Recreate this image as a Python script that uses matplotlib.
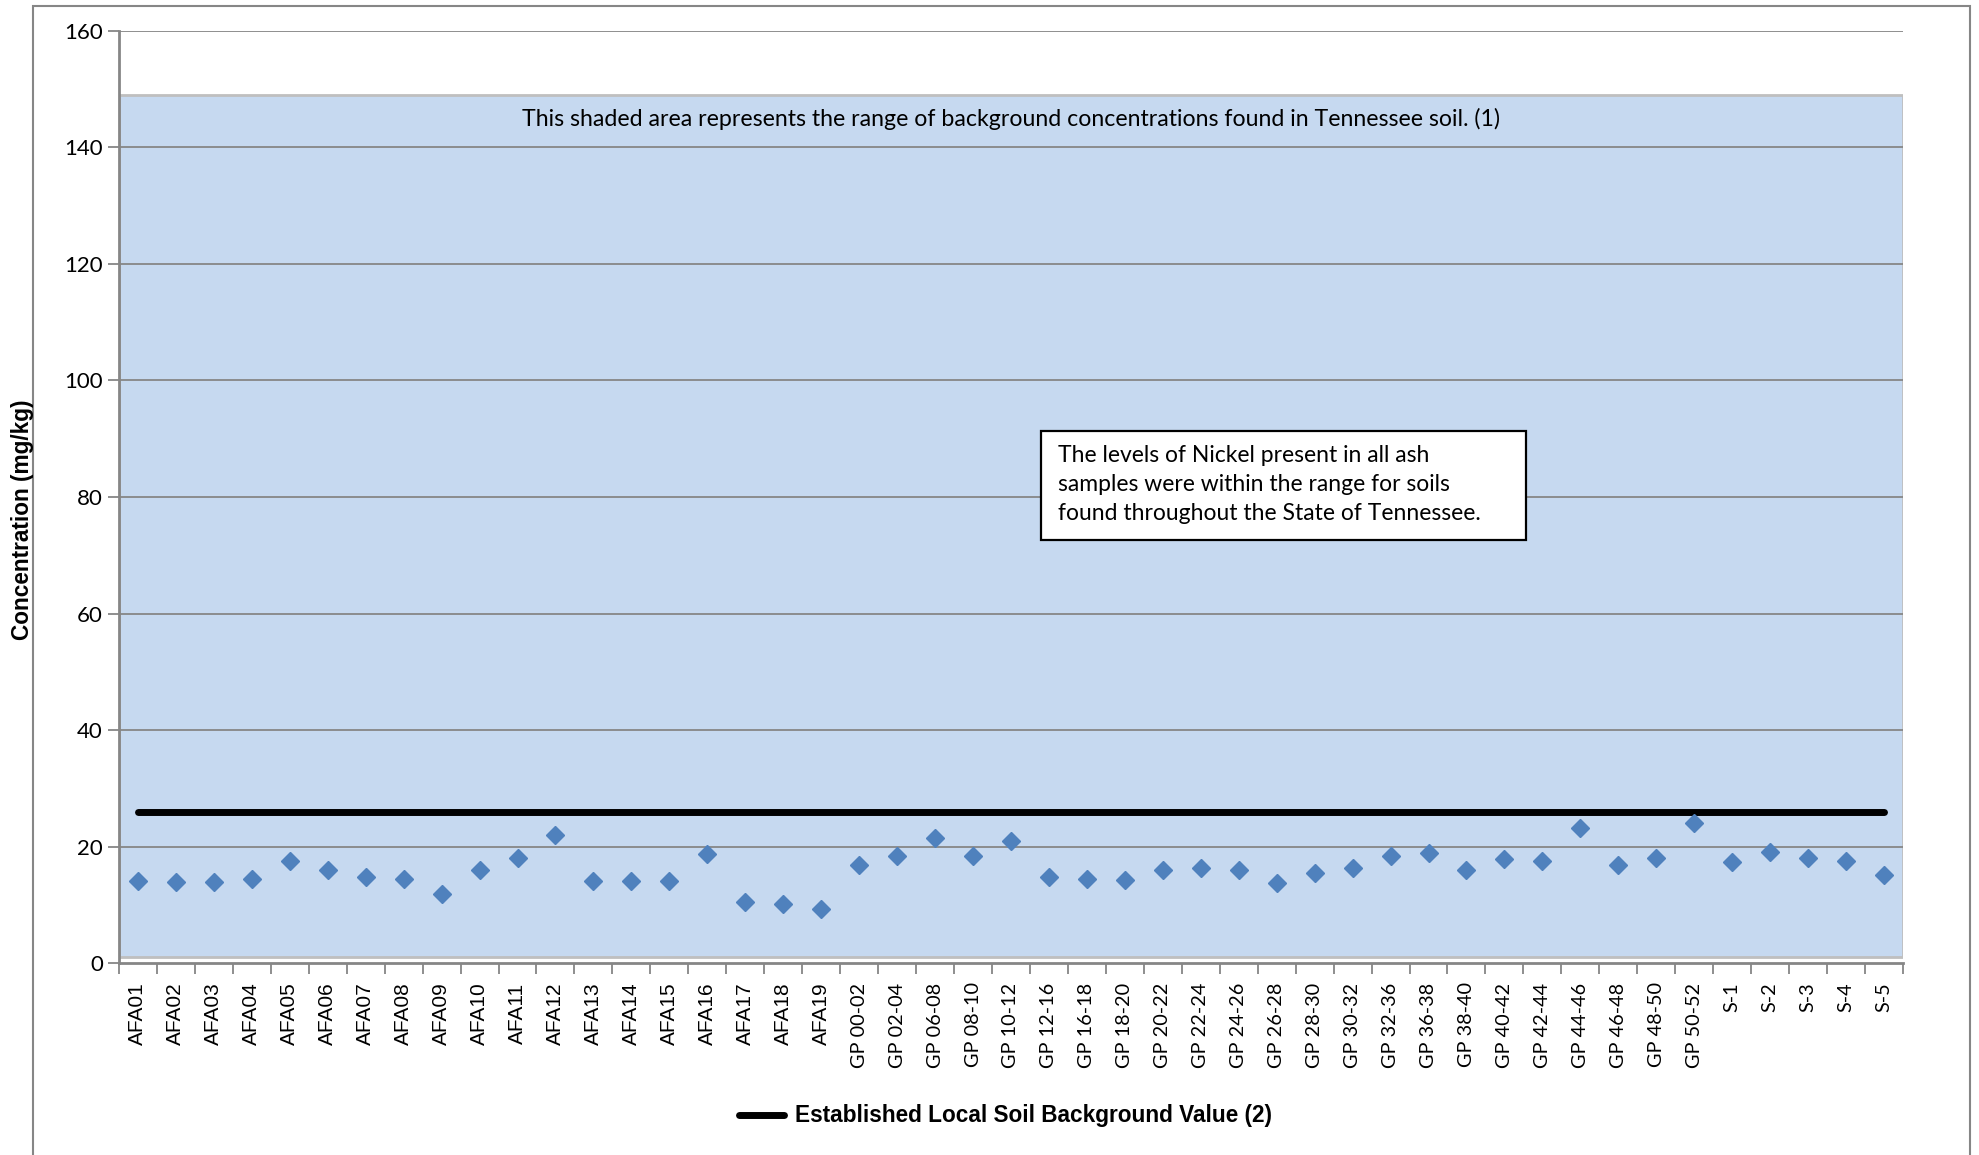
import matplotlib.pyplot as plt
from matplotlib.patches import Rectangle

# sample ids and nickel concentrations (mg/kg)
afa_ids = ["AFA%02d" % i for i in range(1, 20)]
gp_ids = ["GP 00-02", "GP 02-04", "GP 06-08", "GP 08-10", "GP 10-12", "GP 12-16",
          "GP 16-18", "GP 18-20", "GP 20-22", "GP 22-24", "GP 24-26", "GP 26-28",
          "GP 28-30", "GP 30-32", "GP 32-36", "GP 36-38", "GP 38-40", "GP 40-42",
          "GP 42-44", "GP 44-46", "GP 46-48", "GP 48-50", "GP 50-52"]
s_ids = ["S-1", "S-2", "S-3", "S-4", "S-5"]
samples = afa_ids + gp_ids + s_ids

afa_vals = [14.1, 13.9, 13.9, 14.4, 17.5, 16.0, 14.8, 14.4, 11.9, 15.9,
            18.1, 21.9, 14.0, 14.0, 14.0, 18.7, 10.4, 10.1, 9.3]
gp_vals = [16.8, 18.4, 21.5, 18.4, 21.0, 14.8, 14.4, 14.2, 15.9, 16.3,
           16.0, 13.7, 15.5, 16.3, 18.3, 18.9, 16.0, 17.8, 17.6, 23.2,
           16.8, 18.1, 24.0]
s_vals = [17.3, 19.0, 18.0, 17.5, 15.1]
nickel = afa_vals + gp_vals + s_vals

background_value = 26      # established local soil background
tn_range = (1, 149)        # Tennessee soil background range

x = list(range(len(samples)))

fig = plt.figure(figsize=(19.79, 11.55), dpi=100)
ax = fig.add_axes([0.0601, 0.1662, 0.9015, 0.807])

grey = "#868686"
ax.axhspan(tn_range[0], tn_range[1], facecolor="#C6D9F0", edgecolor="#BFBFBF", lw=2, zorder=0)
for g in range(20, 161, 20):
    ax.axhline(g, color=grey, lw=1.3, zorder=1)

ax.plot(x, [background_value] * len(x), color="black", lw=5, solid_capstyle="round",
        zorder=3, label="Established Local Soil Background Value (2)")
ax.plot(x, nickel, "D", color="#4F81BD", markersize=9.2, zorder=4)

ax.set_xlim(-0.5, len(x) - 0.5)
ax.set_ylim(0, 160)
ax.set_yticks(range(0, 161, 20))
ax.tick_params(axis="y", length=8, color=grey, width=1.3, labelsize=16)
for lab in ax.get_yticklabels():
    lab.set_fontfamily("Lato")

ax.set_xticks(x)
ax.set_xticklabels(samples, rotation=90)
ax.set_xticks([i - 0.5 for i in range(len(x) + 1)], minor=True)
ax.tick_params(axis="x", which="major", length=0, pad=14, labelsize=14.3)
ax.tick_params(axis="x", which="minor", length=8, color=grey, width=1.3)
for lab in ax.get_xticklabels():
    if lab.get_text().startswith("AFA"):
        lab.set_fontfamily("Liberation Sans")
        lab.set_fontsize(15)
    else:
        lab.set_fontfamily("Lato")

for side in ["top", "right"]:
    ax.spines[side].set_visible(False)
for side in ["left", "bottom"]:
    ax.spines[side].set_color(grey)
    ax.spines[side].set_linewidth(2)

ax.text(23, 144.9, "This shaded area represents the range of background concentrations found in Tennessee soil. (1)",
        ha="center", va="center", fontsize=16.7, family="Lato")

ax.add_patch(Rectangle((23.8, 72.6), 12.76, 18.7, facecolor="white", edgecolor="black", lw=1.6, zorder=5))
ax.text(24.25, 82.1, "The levels of Nickel present in all ash\nsamples were within the range for soils\nfound throughout the State of Tennessee.",
        ha="left", va="center", fontsize=16.5, family="Lato", linespacing=1.47, zorder=6)

fig.text(0.0116, 0.55, "Concentration (mg/kg)", rotation=90, ha="center", va="center",
         fontsize=16.3, fontweight="bold", family="Liberation Sans")

fig.legend(loc="center", bbox_to_anchor=(0.508, 0.0338), frameon=False, handlelength=2.0,
           handletextpad=0.5, prop={"family": "Liberation Sans", "weight": "bold", "size": 16.3})

# outer chart frame
fig.patches.append(Rectangle((33 / 1979, -0.1), (1970 - 33) / 1979, 1.1 - 6 / 1155,
                             transform=fig.transFigure, fill=False, edgecolor=grey, lw=1.5))

fig.savefig("out.png", dpi=100)
